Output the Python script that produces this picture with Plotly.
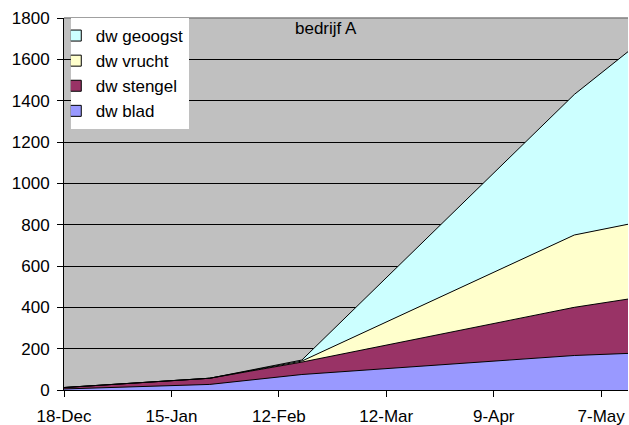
import plotly.graph_objects as go

# data
dates = ['2006-12-18', '2007-01-25', '2007-02-18', '2007-04-30', '2007-05-14']
dw_blad = [5, 27, 75, 167, 177]
dw_stengel = [7, 30, 60, 233, 263]
dw_vrucht = [0, 0, 5, 350, 362]
dw_geoogst = [0, 0, 5, 680, 835]

series = [
    ('dw blad', dw_blad, '#9999FF'),
    ('dw stengel', dw_stengel, '#993366'),
    ('dw vrucht', dw_vrucht, '#FFFFCC'),
    ('dw geoogst', dw_geoogst, '#CCFFFF'),
]

FONT = 'Arial, Liberation Sans, sans-serif'

fig = go.Figure()
for name, vals, color in series:
    fig.add_trace(go.Scatter(
        x=dates, y=vals, name=name, stackgroup='one', mode='lines',
        line=dict(color='black', width=1), fillcolor=color, showlegend=False,
    ))
# legend swatches
for name, vals, color in series:
    fig.add_trace(go.Scatter(
        x=[None], y=[None], name=name, mode='markers',
        marker=dict(symbol='square', size=11, color=color, line=dict(color='black', width=1)),
    ))

fig.add_annotation(text='bedrijf A', x=0.465, y=1.0, xref='paper', yref='paper',
                   xanchor='center', yanchor='top', showarrow=False, yshift=1,
                   font=dict(size=17, color='black', family=FONT))
fig.add_shape(type='line', xref='paper', yref='paper', x0=0, x1=1, y0=1, y1=1,
              line=dict(color='#808080', width=1.5), layer='above')

fig.update_layout(
    width=629, height=425,
    margin=dict(l=64, r=1, t=18, b=35),
    paper_bgcolor='white', plot_bgcolor='#C0C0C0',
    font=dict(family=FONT, size=17, color='black'),
    legend=dict(x=0.012, y=1, xanchor='left', yanchor='top', traceorder='reversed',
                bgcolor='white', borderwidth=0, font=dict(size=17),
                itemwidth=30, tracegroupgap=0, indentation=-15),
    xaxis=dict(type='date', range=['2006-12-18', '2007-05-14'],
               tick0='2006-12-18', dtick=28 * 86400000, tickformat='%-d-%b',
               showgrid=False, showline=True, linecolor='black', linewidth=1,
               ticks='outside', ticklen=6, tickcolor='black', zeroline=False,
               ticklabelstandoff=5, automargin=False),
    yaxis=dict(range=[0, 1800], dtick=200, showgrid=True, gridcolor='black', gridwidth=1,
               showline=True, linecolor='black', linewidth=1, ticks='outside', ticklen=6,
               tickcolor='black', zeroline=False, ticklabelstandoff=4, automargin=False),
)

# drop the page's default body margin so the figure fills the window
fig.write_html('out.html', config={'displayModeBar': False},
               post_script="document.body.style.margin='0';")
